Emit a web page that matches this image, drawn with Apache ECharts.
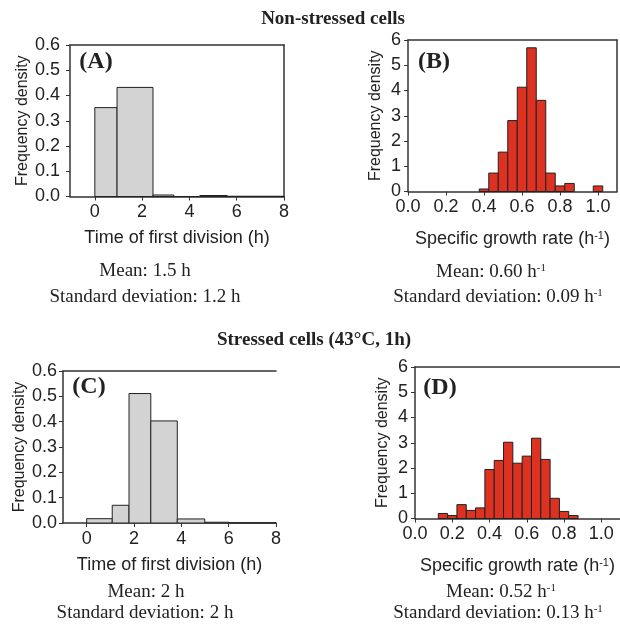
<!DOCTYPE html>
<html>
<head>
<meta charset="UTF-8">
<title>Division time and growth rate histograms</title>
<script src="https://cdn.jsdelivr.net/npm/echarts@6/dist/echarts.min.js"></script>
<style>
  body { margin: 0; background: #fff; }
  #main { width: 620px; height: 630px; }
</style>
</head>
<body>
<div id="main"></div>
<script>
// tick labels
var timeTicks = [0, 2, 4, 6, 8];
var rateTicks = [0, 0.2, 0.4, 0.6, 0.8, 1.0];

// (A) non-stressed, time of first division (variable bins)
var binLoA = [0, 0.94, 2.46, 3.34, 4.44, 5.6];
var binHiA = [0.94, 2.46, 3.34, 4.44, 5.6, 8.0];
var densA  = [0.352, 0.432, 0.006, 0.0, 0.004, 0.001];

// (B) non-stressed, specific growth rate (bin width 0.05)
var binWidthRate = 0.05;
var centersB = [0.40, 0.45, 0.50, 0.55, 0.60, 0.65, 0.70, 0.75, 0.80, 0.85, 1.00];
var densB    = [0.10, 0.73, 1.56, 2.81, 4.13, 5.69, 3.61, 0.73, 0.22, 0.32, 0.22];

// (C) stressed, time of first division
var binLoC = [0, 1.08, 1.79, 2.71, 3.83, 4.99, 6.0];
var binHiC = [1.08, 1.79, 2.71, 3.83, 4.99, 6.0, 8.0];
var densC  = [0.017, 0.070, 0.511, 0.403, 0.016, 0.003, 0.001];

// (D) stressed, specific growth rate
var centersD = [0.15, 0.20, 0.25, 0.30, 0.35, 0.40, 0.45, 0.50, 0.55, 0.60, 0.65, 0.70, 0.75, 0.80, 0.85];
var densD    = [0.20, 0.12, 0.55, 0.32, 0.42, 1.94, 2.30, 3.02, 2.19, 2.47, 3.18, 2.34, 0.80, 0.28, 0.12];

var ink = '#222';
var sans = '"Liberation Sans", Arial, sans-serif';
var serif = '"Liberation Serif", "Times New Roman", serif';

function binsFrom(lo, hi, dens) {
  return dens.map(function (d, i) { return [lo[i], hi[i], d]; });
}
function binsCentered(centers, dens) {
  return dens.map(function (d, i) {
    return [centers[i] - binWidthRate / 2, centers[i] + binWidthRate / 2, d];
  });
}

var myChart = echarts.init(document.getElementById('main'));

var grids = [
  { left: 70,  top: 45,  width: 214, height: 151.5 },
  { left: 408, top: 40,  width: 209, height: 151.5 },
  { left: 63,  top: 371, width: 213, height: 152 },
  { left: 415, top: 367, width: 210, height: 151.5 }
];

var lineStyle = { color: '#333', width: 1.5 };
var supRich = { sup: { fontSize: 11, verticalAlign: 'top', fontFamily: sans, color: ink, padding: [0, 0, 6, 0] } };

function xMain(g, min, max, ticks, digits, name, gap) {
  return {
    type: 'value', gridIndex: g, min: min, max: max, position: 'bottom',
    axisLine: { onZero: false, lineStyle: lineStyle },
    axisTick: { length: 4, customValues: ticks, lineStyle: { color: '#333' } },
    axisLabel: { customValues: ticks, margin: 7, color: ink, fontSize: 18, fontFamily: sans,
      formatter: function (v) { return v.toFixed(digits); } },
    splitLine: { show: false },
    name: name, nameLocation: 'middle', nameGap: gap,
    nameTextStyle: { color: ink, fontSize: 18, fontFamily: sans, rich: supRich }
  };
}
function frameX(g, min, max) {
  return {
    type: 'value', gridIndex: g, min: min, max: max, position: 'top',
    axisLine: { onZero: false, lineStyle: lineStyle },
    axisTick: { show: false }, axisLabel: { show: false }, splitLine: { show: false }
  };
}
function yMain(g, max, interval, digits, gap, margin) {
  return {
    type: 'value', gridIndex: g, min: 0, max: max, interval: interval, position: 'left',
    axisLine: { show: true, onZero: false, lineStyle: lineStyle },
    axisTick: { show: true, length: 4, lineStyle: { color: '#333' } },
    axisLabel: { margin: margin, color: ink, fontSize: 18, fontFamily: sans,
      formatter: function (v) { return v.toFixed(digits); } },
    splitLine: { show: false },
    name: 'Frequency density', nameLocation: 'middle', nameGap: gap, nameMoveOverlap: false,
    nameTextStyle: { color: ink, fontSize: 16, fontFamily: sans }
  };
}
function frameY(g, max) {
  return {
    type: 'value', gridIndex: g, min: 0, max: max, position: 'right',
    axisLine: { show: true, onZero: false, lineStyle: lineStyle },
    axisTick: { show: false }, axisLabel: { show: false }, splitLine: { show: false }
  };
}

function histSeries(xi, yi, data, fill) {
  return {
    type: 'custom', xAxisIndex: xi, yAxisIndex: yi, data: data,
    encode: { x: [0, 1], y: 2 },
    renderItem: function (params, api) {
      var p0 = api.coord([api.value(0), api.value(2)]);
      var p1 = api.coord([api.value(1), 0]);
      return {
        type: 'rect',
        shape: { x: p0[0], y: p0[1], width: p1[0] - p0[0], height: p1[1] - p0[1] },
        style: { fill: fill, stroke: '#222', lineWidth: 1 }
      };
    }
  };
}

function label(x, y, text, font) {
  return {
    type: 'text', x: x, y: y,
    style: { text: text, font: font, fill: ink, align: 'center', verticalAlign: 'middle',
      rich: { sup: { fontSize: 11, fontFamily: serif, fill: ink, verticalAlign: 'top', padding: [0, 0, 7, 0] } } }
  };
}

var rateName = 'Specific growth rate (h{sup|-1})';
var timeName = 'Time of first division (h)';

var option = {
  animation: false,
  grid: grids,
  xAxis: [
    xMain(0, -1.05, 8, timeTicks, 0, timeName, 33),
    xMain(1, 0, 1.1, rateTicks, 1, rateName, 39),
    xMain(2, -1, 8, timeTicks, 0, timeName, 33),
    xMain(3, 0, 1.1, rateTicks, 1, rateName, 39),
    frameX(0, -1.05, 8),
    frameX(1, 0, 1.1),
    frameX(2, -1, 8),
    frameX(3, 0, 1.1)
  ],
  yAxis: [
    yMain(0, 0.6, 0.1, 1, 39, 10),
    yMain(1, 6, 1, 0, 24, 7),
    yMain(2, 0.6, 0.1, 1, 35, 6),
    yMain(3, 6, 1, 0, 24, 7),
    frameY(0, 0.6),
    frameY(1, 6)
  ],
  series: [
    histSeries(0, 0, binsFrom(binLoA, binHiA, densA), '#d3d3d3'),
    histSeries(1, 1, binsCentered(centersB, densB), '#dd3122'),
    histSeries(2, 2, binsFrom(binLoC, binHiC, densC), '#d3d3d3'),
    histSeries(3, 3, binsCentered(centersD, densD), '#dd3122')
  ],
  graphic: [
    label(333, 19, 'Non-stressed cells', 'bold 19px ' + serif),
    label(314, 340, 'Stressed cells (43\u00B0C, 1h)', 'bold 19px ' + serif),
    label(96, 62, '(A)', 'bold 24px ' + serif),
    label(434, 62, '(B)', 'bold 24px ' + serif),
    label(89, 387, '(C)', 'bold 24px ' + serif),
    label(440, 388, '(D)', 'bold 24px ' + serif),
    label(145, 271, 'Mean: 1.5 h', '19px ' + serif),
    label(145, 297, 'Standard deviation: 1.2 h', '19px ' + serif),
    label(491, 272, 'Mean: 0.60 h{sup|-1}', '19px ' + serif),
    label(498, 297, 'Standard deviation: 0.09 h{sup|-1}', '19px ' + serif),
    label(146, 592, 'Mean: 2 h', '19px ' + serif),
    label(145, 613, 'Standard deviation: 2 h', '19px ' + serif),
    label(501, 592, 'Mean: 0.52 h{sup|-1}', '19px ' + serif),
    label(498, 613, 'Standard deviation: 0.13 h{sup|-1}', '19px ' + serif)
  ]
};

myChart.setOption(option);
</script>
</body>
</html>
